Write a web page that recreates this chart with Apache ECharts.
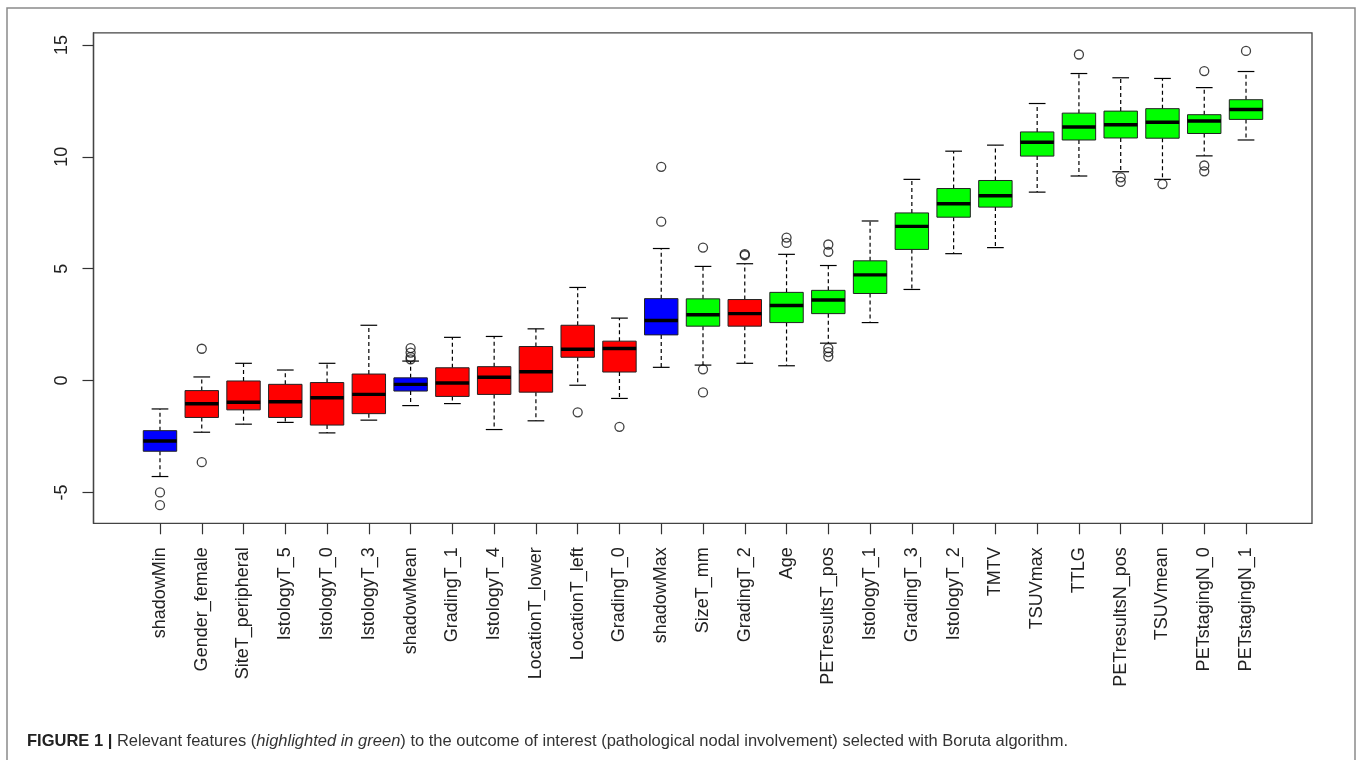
<!DOCTYPE html>
<html>
<head>
<meta charset="utf-8">
<title>Boruta feature importance</title>
<script src="https://cdn.jsdelivr.net/npm/echarts@6/dist/echarts.min.js"></script>
<style>
  html, body { margin: 0; padding: 0; background: #fff; }
  #chart { width: 1357px; height: 760px; }
</style>
</head>
<body>
<div id="chart"></div>
<script>
// features in plot order
var categories = ['shadowMin', 'Gender_female', 'SiteT_peripheral', 'IstologyT_5', 'IstologyT_0',
  'IstologyT_3', 'shadowMean', 'GradingT_1', 'IstologyT_4', 'LocationT_lower', 'LocationT_left',
  'GradingT_0', 'shadowMax', 'SizeT_mm', 'GradingT_2', 'Age', 'PETresultsT_pos', 'IstologyT_1',
  'GradingT_3', 'IstologyT_2', 'TMTV', 'TSUVmax', 'TTLG', 'PETresultsN_pos', 'TSUVmean',
  'PETstagingN_0', 'PETstagingN_1'];

// S = shadow, R = rejected, C = confirmed
var decision = ['S', 'R', 'R', 'R', 'R', 'R', 'S', 'R', 'R', 'R', 'R', 'R', 'S', 'C', 'R', 'C',
  'C', 'C', 'C', 'C', 'C', 'C', 'C', 'C', 'C', 'C', 'C'];

var lowerWhisker = [-4.29, -2.31, -1.95, -1.87, -2.34, -1.77, -1.12, -1.03, -2.19, -1.80, -0.21,
  -0.80, 0.59, 0.69, 0.77, 0.66, 1.67, 2.59, 4.07, 5.67, 5.94, 8.42, 9.14, 9.33, 8.99, 10.04, 10.75];
var q1 = [-3.16, -1.65, -1.31, -1.65, -1.99, -1.48, -0.47, -0.71, -0.62, -0.52, 1.04,
  0.38, 2.04, 2.43, 2.43, 2.59, 2.99, 3.89, 5.86, 7.30, 7.75, 10.03, 10.75, 10.84, 10.83, 11.04, 11.67];
var median = [-2.70, -1.04, -0.97, -0.95, -0.77, -0.62, -0.17, -0.11, 0.15, 0.39, 1.40,
  1.43, 2.68, 2.94, 2.99, 3.35, 3.60, 4.72, 6.89, 7.90, 8.26, 10.65, 11.33, 11.43, 11.54, 11.60, 12.11];
var q3 = [-2.24, -0.45, -0.02, -0.17, -0.09, 0.29, 0.12, 0.57, 0.62, 1.52, 2.47,
  1.76, 3.66, 3.65, 3.62, 3.94, 4.03, 5.35, 7.49, 8.58, 8.94, 11.11, 11.95, 12.04, 12.15, 11.88, 12.55];
var upperWhisker = [-1.27, 0.16, 0.77, 0.47, 0.77, 2.47, 0.87, 1.93, 1.97, 2.31, 4.16,
  2.79, 5.90, 5.10, 5.22, 5.64, 5.14, 7.13, 8.99, 10.25, 10.52, 12.38, 13.72, 13.53, 13.50, 13.09, 13.81];

// [feature index, value]
var outliers = [[0, -5.0], [0, -5.57], [1, 1.42], [1, -3.65], [6, 1.45], [6, 1.25], [6, 1.05],
  [6, 0.95], [10, -1.42], [11, -2.07], [12, 9.55], [12, 7.10], [13, 5.94], [13, 0.50], [13, -0.53],
  [14, 5.65], [14, 5.60], [15, 6.39], [15, 6.15], [16, 6.08], [16, 5.75], [16, 1.45], [16, 1.27],
  [16, 1.07], [22, 14.57], [23, 9.08], [23, 8.88], [24, 8.78], [25, 13.83], [25, 9.61], [25, 9.35],
  [26, 14.73]];

var yTicks = [-5, 0, 5, 10, 15];
var yMin = -6.38, yMax = 15.54;

var fillColor = { S: '#0000ff', R: '#ff0000', C: '#00ff00' };

var boxData = categories.map(function (c, i) {
  return [i, lowerWhisker[i], q1[i], median[i], q3[i], upperWhisker[i]];
});

function renderBox(params, api) {
  var idx = api.value(0);
  var band = api.size([1, 0])[0];
  var half = band * 0.4;
  var staple = band * 0.2;
  var x = api.coord([idx, 0])[0];
  var yLo = api.coord([idx, api.value(1)])[1];
  var yQ1 = api.coord([idx, api.value(2)])[1];
  var yMed = api.coord([idx, api.value(3)])[1];
  var yQ3 = api.coord([idx, api.value(4)])[1];
  var yHi = api.coord([idx, api.value(5)])[1];
  var dash = { stroke: '#000', lineWidth: 1.2, lineDash: [4, 3] };
  var solid = { stroke: '#000', lineWidth: 1.2 };
  return {
    type: 'group',
    children: [
      { type: 'line', shape: { x1: x, y1: yQ1, x2: x, y2: yLo }, style: dash },
      { type: 'line', shape: { x1: x, y1: yQ3, x2: x, y2: yHi }, style: dash },
      { type: 'line', shape: { x1: x - staple, y1: yLo, x2: x + staple, y2: yLo }, style: solid },
      { type: 'line', shape: { x1: x - staple, y1: yHi, x2: x + staple, y2: yHi }, style: solid },
      { type: 'rect', shape: { x: x - half, y: yQ3, width: half * 2, height: yQ1 - yQ3 },
        style: { fill: fillColor[decision[idx]], stroke: '#222', lineWidth: 1 } },
      { type: 'line', shape: { x1: x - half, y1: yMed, x2: x + half, y2: yMed },
        style: { stroke: '#000', lineWidth: 3.4 } }
    ]
  };
}

var chart = echarts.init(document.getElementById('chart'), null, { renderer: 'canvas' });

var option = {
  animation: false,
  backgroundColor: '#fff',
  title: {
    left: 22,
    top: 728,
    text: '{b|FIGURE 1 | }Relevant features ({i|highlighted in green}) to the outcome of interest (pathological nodal involvement) selected with Boruta algorithm.',
    textStyle: {
      fontFamily: 'Liberation Sans, sans-serif',
      fontSize: 16.5,
      fontWeight: 'normal',
      color: '#333',
      rich: {
        b: { fontFamily: 'Liberation Sans, sans-serif', fontSize: 16.5, fontWeight: 'bold', color: '#222' },
        i: { fontFamily: 'Liberation Sans, sans-serif', fontSize: 16.5, fontStyle: 'italic', color: '#333' }
      }
    }
  },
  graphic: [{
    type: 'rect',
    shape: { x: 7, y: 8, width: 1348, height: 800 },
    style: { fill: 'none', stroke: '#8a8a8a', lineWidth: 1.5 },
    silent: true
  }],
  grid: [
    { left: 139.1, top: 32.8, width: 1127.8, height: 490.5 },
    { left: 93.5, top: 32.8, width: 1218.5, height: 490.5, show: true, borderColor: '#444', borderWidth: 1.3, backgroundColor: 'transparent' }
  ],
  xAxis: [{
    type: 'category',
    gridIndex: 0,
    data: categories,
    boundaryGap: true,
    position: 'bottom',
    axisLine: { show: false, onZero: false },
    axisTick: { show: true, alignWithLabel: true, interval: 0, length: 11, lineStyle: { color: '#333', width: 1.2 } },
    axisLabel: {
      interval: 0, rotate: 90, margin: 24,
      fontFamily: 'Liberation Sans, Arial, sans-serif', fontSize: 18, color: '#222'
    },
    splitLine: { show: false }
  }, {
    type: 'value',
    gridIndex: 1,
    min: 0, max: 1,
    show: false
  }],
  yAxis: [{
    type: 'value',
    gridIndex: 0,
    min: yMin, max: yMax,
    show: false
  }, {
    type: 'value',
    gridIndex: 1,
    min: yMin, max: yMax,
    axisLine: { show: true, onZero: false, lineStyle: { color: '#444', width: 1.3 } },
    axisTick: { show: true, length: 11, customValues: yTicks, lineStyle: { color: '#333', width: 1.2 } },
    axisLabel: {
      customValues: yTicks, rotate: 90, margin: 22,
      fontFamily: 'Liberation Sans, Arial, sans-serif', fontSize: 18, color: '#222'
    },
    splitLine: { show: false }
  }],
  series: [{
    type: 'custom',
    name: 'importance',
    xAxisIndex: 0,
    yAxisIndex: 0,
    renderItem: renderBox,
    encode: { x: 0, y: [1, 2, 3, 4, 5] },
    data: boxData,
    z: 3
  }, {
    type: 'scatter',
    name: 'outliers',
    xAxisIndex: 0,
    yAxisIndex: 0,
    symbol: 'circle',
    symbolSize: 9,
    itemStyle: { color: 'rgba(255,255,255,0)', borderColor: '#111', borderWidth: 1.3 },
    data: outliers,
    z: 4
  }]
};

chart.setOption(option);
window.onresize = chart.resize;
</script>
</body>
</html>
